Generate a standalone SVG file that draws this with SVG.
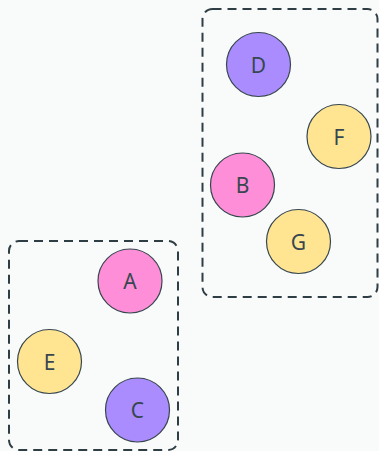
<svg xmlns="http://www.w3.org/2000/svg" width="379" height="451" viewBox="0 0 379 451">
<style>
.grp{fill:none;stroke:#2f3e44;stroke-width:2;stroke-dasharray:9 6}
.n circle{stroke:#37474f;stroke-width:1.2}
.n text{font-family:"Noto Sans","Open Sans",sans-serif;font-size:21px;fill:#37474f;text-anchor:middle;dominant-baseline:central}
.p{fill:#ab8cff}.k{fill:#ff8ed8}.y{fill:#ffe591}
</style>
<rect width="379" height="451" fill="#f9fafa"/>
<g id="clusters">
<rect class="grp" x="202.5" y="9" width="175" height="288" rx="10"/>
<rect class="grp" x="9" y="241" width="169" height="209" rx="10"/>
</g>
<g id="connectors"></g>
<g id="D" class="n"><circle class="p" cx="258.5" cy="64.5" r="32"/><text x="258.5" y="64.5">D</text></g>
<g id="F" class="n"><circle class="y" cx="339" cy="136.5" r="32"/><text x="339" y="136.5">F</text></g>
<g id="B" class="n"><circle class="k" cx="242.5" cy="185" r="32"/><text x="242.5" y="185">B</text></g>
<g id="G" class="n"><circle class="y" cx="298.5" cy="241.5" r="32"/><text x="298.5" y="241.5">G</text></g>
<g id="A" class="n"><circle class="k" cx="130" cy="281" r="32"/><text x="130" y="281">A</text></g>
<g id="E" class="n"><circle class="y" cx="49.5" cy="361.5" r="32"/><text x="49.5" y="361.5">E</text></g>
<g id="C" class="n"><circle class="p" cx="137.5" cy="410" r="32"/><text x="137.5" y="410">C</text></g>
</svg>
